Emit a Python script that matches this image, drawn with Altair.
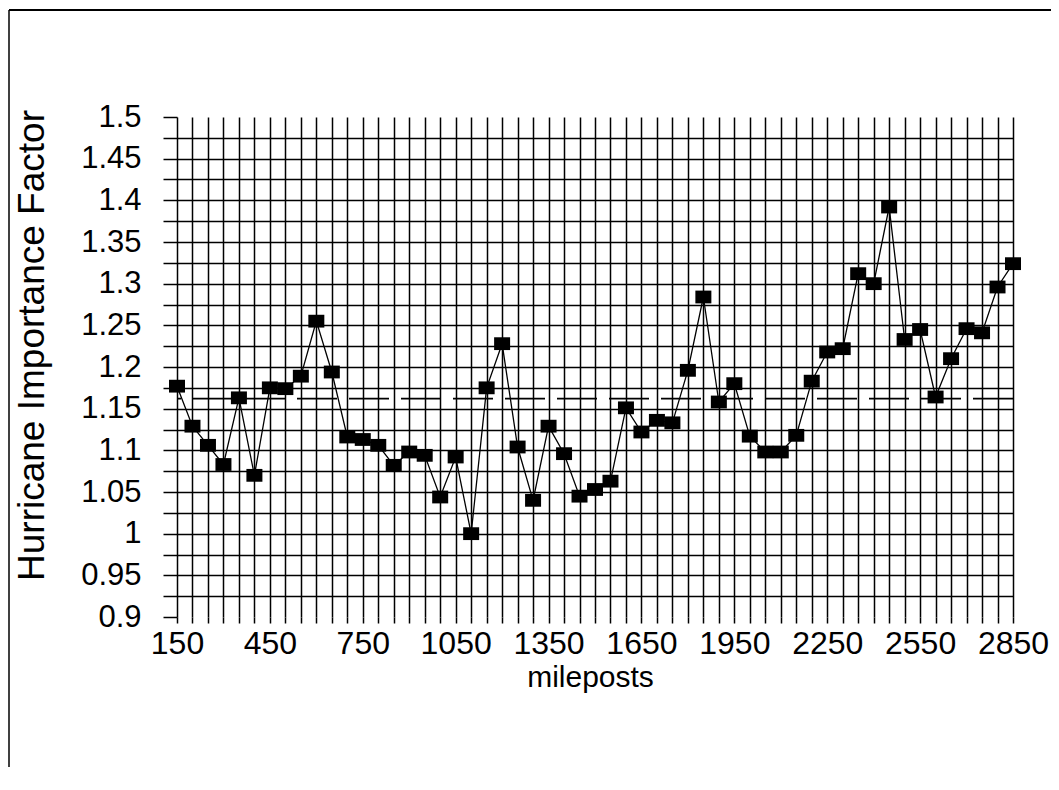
import altair as alt
import pandas as pd

# ---- data ----
mileposts = list(range(150, 2851, 50))
factor = [
    1.177, 1.129, 1.106, 1.083, 1.163, 1.070, 1.175, 1.174, 1.189, 1.255,
    1.194, 1.116, 1.113, 1.106, 1.082, 1.098, 1.094, 1.044, 1.092, 1.000,
    1.175, 1.228, 1.104, 1.040, 1.129, 1.096, 1.045, 1.053, 1.063, 1.151,
    1.122, 1.136, 1.133, 1.196, 1.284, 1.158, 1.180, 1.117, 1.098, 1.098,
    1.118, 1.183, 1.218, 1.222, 1.312, 1.300, 1.392, 1.233, 1.245, 1.164,
    1.210, 1.246, 1.241, 1.296, 1.324,
]
reference_level = 1.162

x_grid = list(range(150, 2851, 50))
x_labels = [150, 450, 750, 1050, 1350, 1650, 1950, 2250, 2550, 2850]
y_ticks = [0.9, 0.925, 0.95, 0.975, 1.0, 1.025, 1.05, 1.075, 1.1, 1.125,
           1.15, 1.175, 1.2, 1.225, 1.25, 1.275, 1.3, 1.325, 1.35, 1.375,
           1.4, 1.425, 1.45, 1.475, 1.5]
y_labels = [0.9, 0.95, 1.0, 1.05, 1.1, 1.15, 1.2, 1.25, 1.3, 1.35, 1.4, 1.45, 1.5]

df = pd.DataFrame({"milepost": mileposts, "factor": factor})
FONT = "Liberation Sans"

x_expr = "indexof([" + ",".join(str(v) for v in x_labels) + "], datum.value) >= 0 ? format(datum.value, 'd') : ''"
y_expr = "indexof([" + ",".join(repr(v) for v in y_labels) + "], datum.value) >= 0 ? format(datum.value, '~g') : ''"

x_axis = alt.Axis(
    values=x_grid, labelExpr=x_expr, labelOverlap=False,
    grid=True, gridColor="black", gridWidth=1.5, gridOpacity=1,
    ticks=True, tickSize=6, tickColor="black", tickWidth=1.5,
    domain=False, labelFont=FONT, labelFontSize=32, labelColor="black",
    labelPadding=5, labelFlush=False,
    title="mileposts", titleFont=FONT, titleFontSize=30, titleFontWeight="normal",
    titleColor="black", titleX=413, titleY=69, titleBaseline="alphabetic",
    titleAlign="center",
)
y_axis = alt.Axis(
    values=y_ticks, labelExpr=y_expr, labelOverlap=False,
    grid=True, gridColor="black", gridWidth=1.5,
    gridOpacity={"condition": {"test": "datum.value < 0.91 || datum.value > 1.49", "value": 0}, "value": 1},
    ticks=True, tickSize=14, tickColor="black", tickWidth=1.5,
    domain=False, labelFont=FONT, labelFontSize=31, labelColor="black",
    labelPadding=22, labelFlush=False,
    title="Hurricane Importance Factor", titleFont=FONT, titleFontSize=37,
    titleFontWeight="normal", titleColor="black", titleX=-126, titleY=228,
    titleAngle=270, titleBaseline="bottom", titleAlign="center",
)

x_enc = alt.X("milepost:Q", scale=alt.Scale(domain=[150, 2850], nice=False, zero=False), axis=x_axis)
y_enc = alt.Y("factor:Q", scale=alt.Scale(domain=[0.9, 1.5], nice=False, zero=False), axis=y_axis)

base = alt.Chart(df)
line = base.mark_line(color="black", strokeWidth=1.3).encode(x=x_enc, y=y_enc)
points = base.mark_point(
    shape="M-1,-0.8L1,-0.8L1,0.8L-1,0.8Z", filled=True, color="black", opacity=1, size=256
).encode(x=x_enc, y=y_enc)

level = alt.Chart(pd.DataFrame({"factor": [reference_level]})).mark_rule(
    color="black", strokeWidth=1.6, strokeDash=[40, 12]
).encode(y=y_enc)

one = pd.DataFrame({"a": [0]})
frame_left = alt.Chart(one).mark_rule(color="black", strokeWidth=1.5).encode(
    x=alt.value(-168), y=alt.value(-107), y2=alt.value(650)
)
frame_top = alt.Chart(one).mark_rule(color="black", strokeWidth=1.8).encode(
    x=alt.value(-168), x2=alt.value(874), y=alt.value(-107)
)

chart = alt.layer(line, points, level, frame_left, frame_top).properties(
    width=836, height=500,
    padding={"left": 169, "top": 109, "right": 38, "bottom": 150},
    autosize=alt.AutoSizeParams(type="none"),
    background="white",
).configure_view(stroke=None)

chart.save("out.html", embed_options={"renderer": "svg", "actions": False})
